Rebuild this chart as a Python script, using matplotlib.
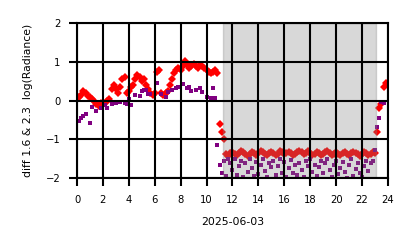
import numpy as np
import matplotlib
matplotlib.use("Agg")
import matplotlib.pyplot as plt

# 10-minute samples, one row per hour
red_rows = [
    [0.05, 0.10, 0.15, 0.25, 0.20, 0.12],
    [0.08, 0.05, 0.00, -0.10, -0.15, -0.05],
    [-0.10, -0.05, 0.00, 0.05, 0.30, 0.40],
    [0.30, 0.20, 0.35, 0.55, 0.60, 0.20],
    [0.25, 0.35, 0.40, 0.55, 0.65, 0.60],
    [0.50, 0.55, 0.40, 0.30, 0.20, 0.15],
    [0.20, 0.75, 0.80, 0.20, 0.15, 0.20],
    [0.25, 0.40, 0.55, 0.70, 0.80, 0.85],
    [0.80, 0.90, 1.02, 0.95, 0.85, 0.90],
    [0.95, 0.90, 0.85, 0.92, 0.90, 0.85],
    [0.80, 0.75, 0.70, 0.75, 0.78, 0.70],
    [-0.60, -0.80, -1.00, -1.38, -1.42, -1.36],
    [-1.33, -1.38, -1.41, -1.36, -1.31, -1.34],
    [-1.39, -1.42, -1.37, -1.32, -1.35, -1.40],
    [-1.36, -1.31, -1.33, -1.39, -1.41, -1.36],
    [-1.32, -1.35, -1.40, -1.37, -1.31, -1.34],
    [-1.39, -1.36, -1.32, -1.35, -1.41, -1.38],
    [-1.33, -1.30, -1.34, -1.39, -1.36, -1.31],
    [-1.35, -1.40, -1.37, -1.32, -1.36, -1.41],
    [-1.37, -1.33, -1.30, -1.35, -1.40, -1.38],
    [-1.34, -1.39, -1.41, -1.36, -1.33, -1.37],
    [-1.40, -1.36, -1.32, -1.35, -1.39, -1.42],
    [-1.37, -1.33, -1.36, -1.40, -1.38, -1.34],
    [-1.35, -0.80, -0.20, -0.10, 0.35, 0.45],
]
nan = np.nan
purple_rows = [
    [nan, -0.52, -0.45, -0.40, -0.35, nan],
    [-0.58, -0.17, nan, -0.28, nan, -0.20],
    [nan, -0.12, -0.20, nan, -0.10, nan],
    [-0.06, nan, -0.03, nan, -0.06, -0.10],
    [0.04, -0.12, nan, 0.14, nan, 0.12],
    [0.25, 0.27, 0.28, 0.17, 0.16, nan],
    [nan, 0.45, nan, 0.16, nan, 0.10],
    [0.23, nan, 0.27, nan, 0.32, 0.34],
    [nan, 0.43, nan, 0.32, 0.35, 0.24],
    [nan, 0.27, nan, 0.32, 0.23, nan],
    [0.10, nan, 0.07, 0.32, 0.06, -1.15],
    [-1.67, -1.87, -1.55, -1.95, -1.50, -1.62],
    [-1.80, -1.52, -1.93, -1.70, -1.55, -1.98],
    [-1.62, -1.85, -1.50, -1.75, -1.95, -1.58],
    [-1.90, -1.66, -1.52, -1.82, -1.97, -1.60],
    [-1.72, -1.55, -1.93, -1.68, -1.50, -1.86],
    [-1.58, -1.96, -1.74, -1.53, -1.88, -1.65],
    [-1.92, -1.60, -1.78, -1.98, -1.55, -1.70],
    [-1.50, -1.84, -1.65, -1.94, -1.72, -1.57],
    [-1.88, -1.62, -1.52, -1.80, -1.96, -1.67],
    [-1.55, -1.90, -1.73, -1.58, -1.85, -1.99],
    [-1.66, -1.52, -1.94, -1.76, -1.60, -1.87],
    [-1.97, -1.70, -1.56, -1.83, -1.62, -1.55],
    [-1.28, -0.67, -0.45, -0.03, -0.07, nan],
]
red = np.array(red_rows).ravel()
purple = np.array(purple_rows).ravel()
hours = np.arange(red.size) / 6.0

night_start = 11.27
night_end = 23.07
xticks = list(range(0, 25, 2))
yticks = [-2, -1, 0, 1, 2]

fig = plt.figure(figsize=(4.14, 2.48), dpi=100)
ax = fig.add_axes([0.186, 0.282, 0.751, 0.625])

ax.plot(hours, red, 'D', color='#ff0000', markersize=3.8, markeredgewidth=0, zorder=2)
ax.plot(hours, purple, 's', color='#800080', markersize=3.1, markeredgewidth=0, zorder=2)
ax.axvspan(night_start, night_end, color='gray', alpha=0.3, zorder=2.2)

ax.set_xlim(0, 24)
ax.set_ylim(-2, 2)
ax.set_xticks(xticks)
ax.set_yticks(yticks)
ax.set_axisbelow(False)
ax.grid(True, color='black', linewidth=1.5)
for s in ax.spines.values():
    s.set_linewidth(1.5)
    s.set_color('black')
ax.tick_params(axis='both', length=5.5, width=1.5, labelsize=7.2, pad=6.5)
ax.set_xlabel('2025-06-03', fontsize=7.8, labelpad=9)
ax.set_ylabel('diff 1.6 & 2.3  log(Radiance)', fontsize=7.8, labelpad=9)

fig.savefig('out.png', dpi=100)
